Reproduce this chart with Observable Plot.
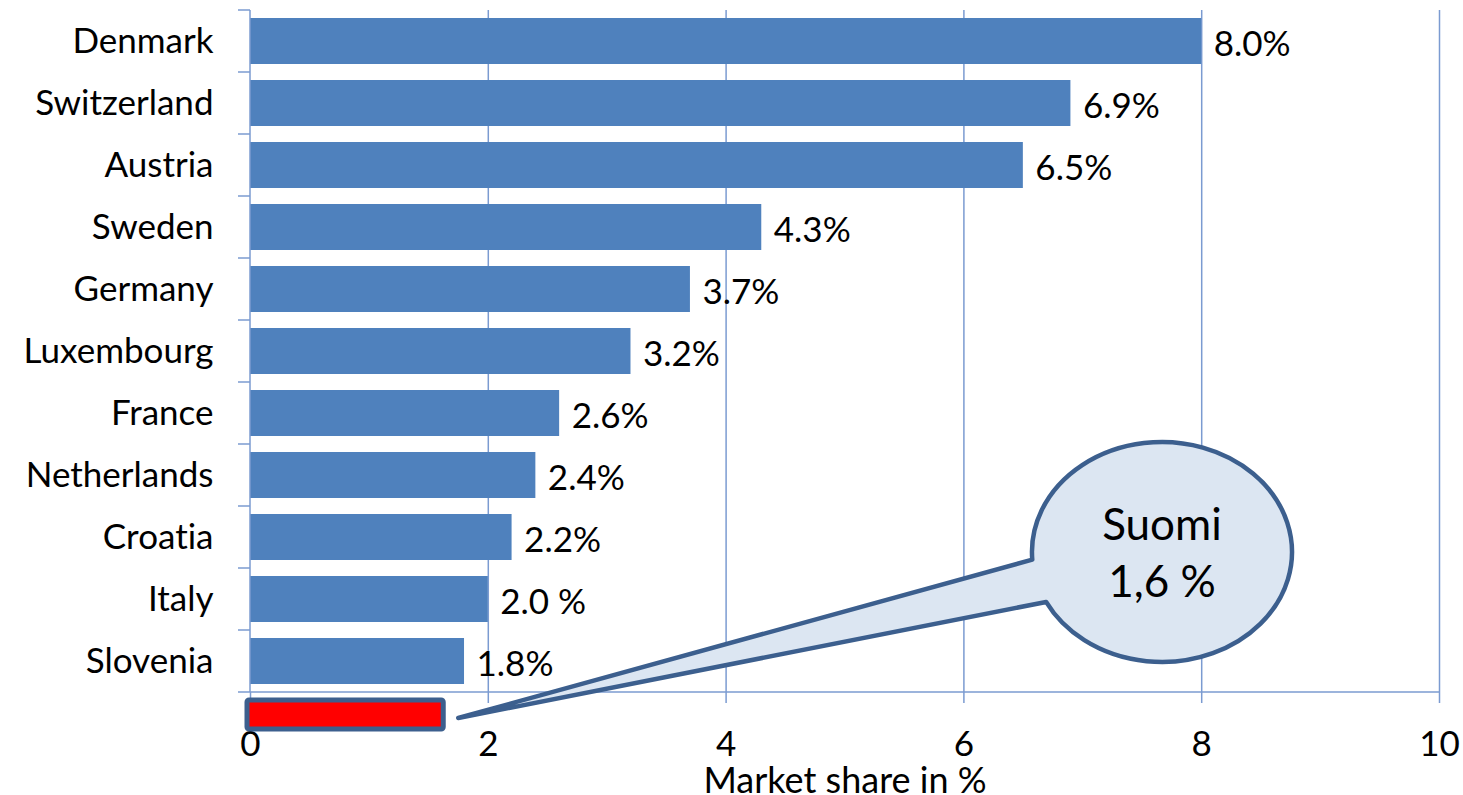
<!DOCTYPE html>
<html><head><meta charset="utf-8">
<script src="https://cdn.jsdelivr.net/npm/d3@7"></script>
<script src="https://cdn.jsdelivr.net/npm/@observablehq/plot@0.6"></script>
<style>body{margin:0;background:#fff;} svg text{font-variant-ligatures:none;}</style>
</head><body><div id="chart"></div>
<script>
const countries = ["Denmark","Switzerland","Austria","Sweden","Germany","Luxembourg","France","Netherlands","Croatia","Italy","Slovenia"];
const values = [8.0, 6.9, 6.5, 4.3, 3.7, 3.2, 2.6, 2.4, 2.2, 2.0, 1.8];
const valueLabels = ["8.0%","6.9%","6.5%","4.3%","3.7%","3.2%","2.6%","2.4%","2.2%","2.0 %","1.8%"];
const xTicks = [0, 2, 4, 6, 8, 10];
const highlightName = "Suomi";
const highlightValue = 1.6;
const highlightLabel = "1,6 %";
const xLabel = "Market share in %";

const data = countries.map((c, i) => ({country: c, value: values[i], label: valueLabels[i]}));
const FONT = "Lato, 'Open Sans', sans-serif";
const GRID = "#7b9bd1";
const BAR = "#4f81bd";
const DARK = "#3c5f8e";
const FS = 35;

const chart = Plot.plot({
  width: 1463, height: 795,
  marginLeft: 250, marginRight: 24, marginTop: 10, marginBottom: 103,
  style: {fontFamily: FONT, background: "#fff", color: "#000", overflow: "visible"},
  x: {domain: [0, 10]},
  y: {domain: countries, padding: 0},
  marks: [
    Plot.gridX(xTicks.slice(1), {stroke: GRID, strokeOpacity: 1, strokeWidth: 1.5}),
    Plot.barX(data, {x: "value", y: "country", fill: BAR, insetTop: 8, insetBottom: 8}),
    Plot.text(data, {x: "value", y: "country", text: "label", textAnchor: "start", dx: 12, dy: 3, fontSize: FS, fill: "#000"}),
    Plot.axisY({tickSize: 0, tickPadding: 37, fontSize: FS, fill: "#000", label: null}),
    Plot.axisX(xTicks, {tickSize: 11, tickPadding: 28, fontSize: FS, stroke: GRID, strokeWidth: 1.5, fill: "#000",
      tickFormat: d => String(d), label: null}),
    Plot.axisX({tickSize: 0, ticks: [], fontSize: 36, fill: "#000",
      label: xLabel, labelAnchor: "center", labelArrow: "none", labelOffset: 100})
  ]
});
document.getElementById("chart").appendChild(chart);

const sx = chart.scale("x");
const sy = chart.scale("y");
const X = v => sx.apply(v);
const yTop = sy.apply(countries[0]);
const yBot = sy.apply(countries[countries.length - 1]) + sy.bandwidth;
const svg = d3.select(chart);
const g = svg.append("g");

// left axis line and band ticks
g.append("line").attr("x1", X(0)).attr("x2", X(0)).attr("y1", yTop).attr("y2", yBot)
  .attr("stroke", GRID).attr("stroke-width", 1.5);
const bounds = countries.map(c => sy.apply(c)).concat([yBot]);
g.selectAll("line.yt").data(bounds).join("line").attr("class", "yt")
  .attr("x1", X(0) - 12).attr("x2", X(0)).attr("y1", d => d).attr("y2", d => d)
  .attr("stroke", GRID).attr("stroke-width", 1.5);
// bottom axis line
g.append("line").attr("x1", X(0)).attr("x2", X(10)).attr("y1", yBot).attr("y2", yBot)
  .attr("stroke", GRID).attr("stroke-width", 1.5);

// highlighted bar (Suomi)
g.append("rect").attr("x", X(0) - 3).attr("y", yBot + 8)
  .attr("width", X(highlightValue) - X(0) + 6).attr("height", 29).attr("rx", 2)
  .attr("fill", "#ff0000").attr("stroke", DARK).attr("stroke-width", 5);

// callout
const cx = X(7.67), cy = yBot - 140, rx = 130, ry = 110;
const deg = Math.PI / 180;
const tA = 176 * deg, tB = 153 * deg;
const A = [cx + rx * Math.cos(tA), cy + ry * Math.sin(tA)];
const B = [cx + rx * Math.cos(tB), cy + ry * Math.sin(tB)];
const tip = [X(highlightValue) + 18, yBot + 26];
const path = `M${A[0]},${A[1]} L${tip[0]},${tip[1]} L${B[0]},${B[1]} A${rx},${ry} 0 1 0 ${A[0]},${A[1]} Z`;
g.append("path").attr("d", path).attr("fill", "#dce6f2").attr("stroke", DARK)
  .attr("stroke-width", 4.5).attr("stroke-linejoin", "round");
g.append("text").attr("x", cx).attr("y", cy - 12).attr("text-anchor", "middle")
  .attr("font-size", 44).attr("font-family", FONT).attr("fill", "#000").text(highlightName);
g.append("text").attr("x", cx).attr("y", cy + 45).attr("text-anchor", "middle")
  .attr("font-size", 44).attr("font-family", FONT).attr("fill", "#000").text(highlightLabel);
</script>
</body></html>
